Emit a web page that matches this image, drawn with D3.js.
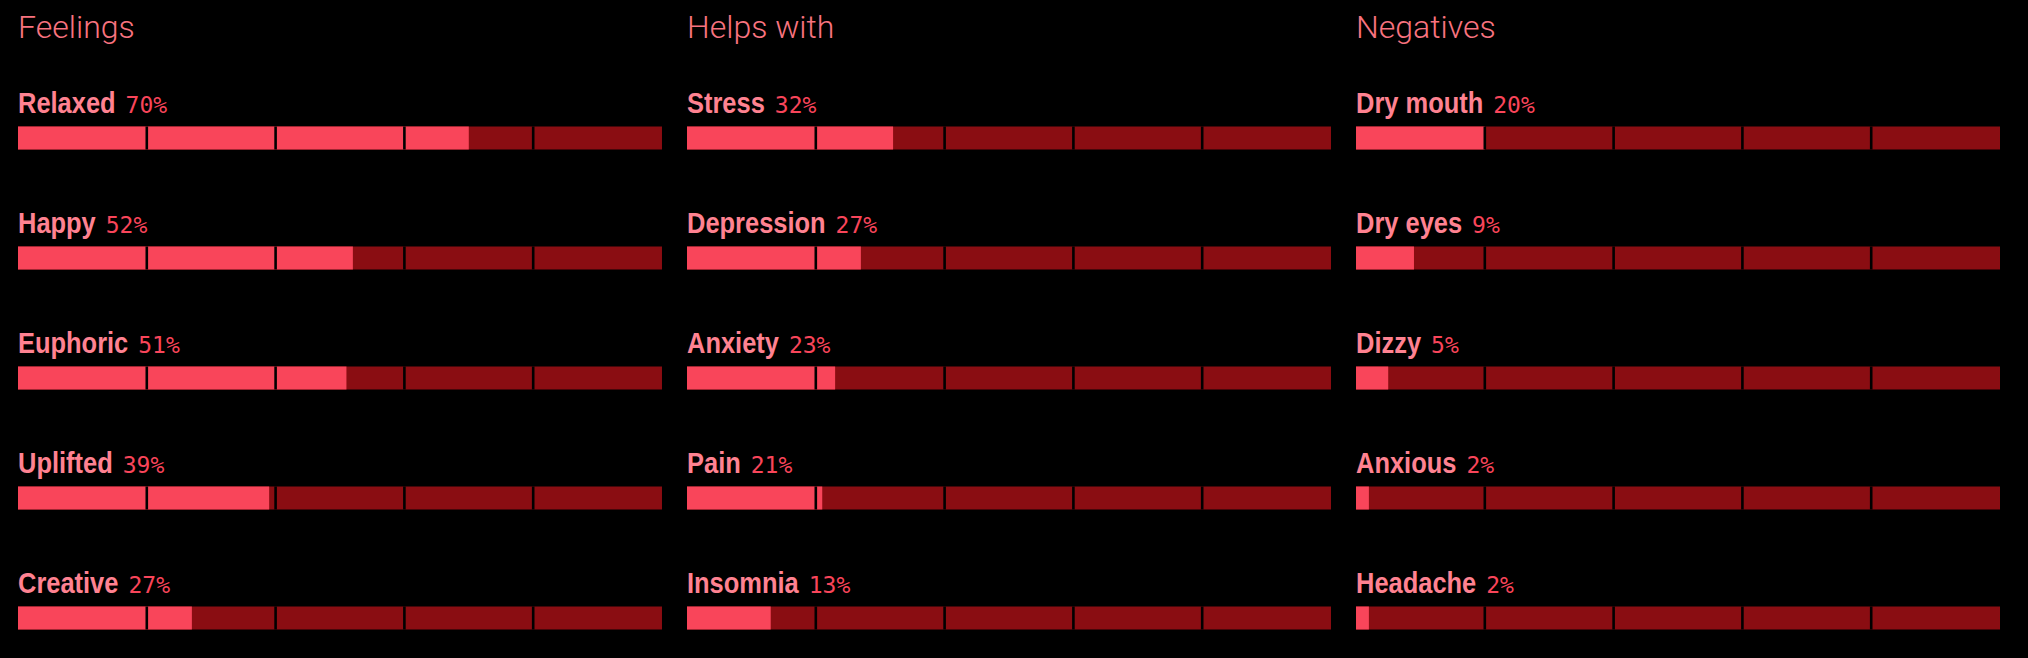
<!DOCTYPE html>
<html>
<head>
<meta charset="utf-8">
<script src="https://cdn.jsdelivr.net/npm/d3@7"></script>
<style>
  html, body { margin: 0; padding: 0; background: #000; }
  svg { display: block; }
</style>
</head>
<body>
<svg id="chart" width="2028" height="658"></svg>
<script>
// ---- data ----
const panelTitles = ["Feelings", "Helps with", "Negatives"];

const feelingsCategories = ["Relaxed", "Happy", "Euphoric", "Uplifted", "Creative"];
const feelingsValues = [70, 52, 51, 39, 27];

const helpsCategories = ["Stress", "Depression", "Anxiety", "Pain", "Insomnia"];
const helpsValues = [32, 27, 23, 21, 13];

const negativesCategories = ["Dry mouth", "Dry eyes", "Dizzy", "Anxious", "Headache"];
const negativesValues = [20, 9, 5, 2, 2];

const segmentTicks = [20, 40, 60, 80];

// ---- build ----
const panels = [
  { title: panelTitles[0], cats: feelingsCategories, vals: feelingsValues },
  { title: panelTitles[1], cats: helpsCategories, vals: helpsValues },
  { title: panelTitles[2], cats: negativesCategories, vals: negativesValues }
];

const colLight = "#f9455a";
const colDark = "#8a0d12";
const colLabel = "#ff8291";
const colTitle = "#f8737f";
const colPct = "#f9455a";
const condense = 0.86;

const svg = d3.select("#chart");

const xPanel = d3.scaleBand()
  .domain(panelTitles)
  .range([18, 2000])
  .paddingInner(0.0374)
  .paddingOuter(0);

const bw = xPanel.bandwidth();
const x = d3.scaleLinear().domain([0, 100]).range([0, bw]);

const yRow = d3.scaleLinear().domain([0, 4]).range([126.5, 606.5]);
const barH = 23;

panels.forEach(p => {
  const g = svg.append("g").attr("transform", `translate(${xPanel(p.title)},0)`);

  g.append("text")
    .attr("x", 0)
    .attr("y", 37.7)
    .attr("fill", colTitle)
    .style("font-family", "Roboto, 'Noto Sans', sans-serif")
    .style("font-weight", 300)
    .style("font-size", "32px")
    .text(p.title);

  const rows = g.selectAll("g.row")
    .data(p.cats.map((c, i) => ({ cat: c, val: p.vals[i], i })))
    .join("g")
    .attr("class", "row")
    .attr("transform", d => `translate(0,${yRow(d.i)})`);

  rows.each(function(d) {
    const r = d3.select(this);
    const lab = r.append("text")
      .attr("transform", `translate(0,-13.2) scale(${condense},1)`)
      .style("font-family", "'Liberation Sans', Arial, sans-serif")
      .style("font-weight", 700)
      .style("font-size", "29.6px")
      .attr("fill", colLabel)
      .text(d.cat);
    const w = lab.node().getComputedTextLength() * condense;
    r.append("text")
      .attr("x", w + 10)
      .attr("y", -13.2)
      .attr("fill", colPct)
      .style("font-family", "'DejaVu Sans Mono', monospace")
      .style("font-size", "23px")
      .text(d.val + "%");
  });

  rows.append("rect")
    .attr("x", x(0))
    .attr("y", 0)
    .attr("width", x(100) - x(0))
    .attr("height", barH)
    .attr("fill", colDark);

  rows.append("rect")
    .attr("x", x(0))
    .attr("y", 0)
    .attr("width", d => x(d.val) - x(0))
    .attr("height", barH)
    .attr("fill", colLight);

  rows.selectAll("rect.sep")
    .data(segmentTicks)
    .join("rect")
    .attr("class", "sep")
    .attr("x", t => x(t) - 1.3)
    .attr("y", 0)
    .attr("width", 2.6)
    .attr("height", barH)
    .attr("fill", "#000");
});
</script>
</body>
</html>
